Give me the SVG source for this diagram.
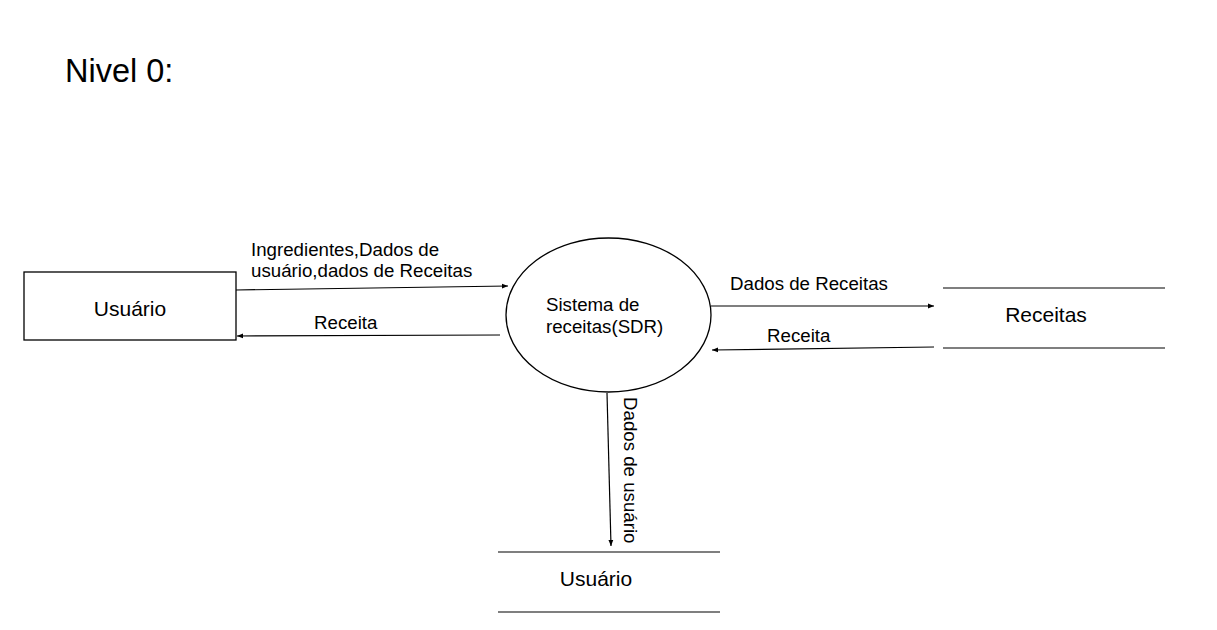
<svg xmlns="http://www.w3.org/2000/svg" width="1217" height="630" viewBox="0 0 1217 630">
<style>
text{font-family:"Liberation Sans",Arial,sans-serif;fill:#000}
.lbl{font-size:18.7px}
.node{font-size:21px}
.shape{fill:#fff;stroke:#000;stroke-width:1.3}
.line{stroke:#000;stroke-width:1.2;fill:none}
.conn{stroke:#000;stroke-width:1.2;fill:none;marker-end:url(#ah)}
</style>
<defs>
<marker id="ah" viewBox="0 0 10 10" refX="10" refY="5" markerWidth="6" markerHeight="6" orient="auto" markerUnits="userSpaceOnUse">
<path d="M0,1 L10,5 L0,9 z" fill="#000"/>
</marker>
</defs>
<rect width="1217" height="630" fill="#fff"/>
<text x="65" y="82" style="font-size:32.5px">Nivel 0:</text>
<g id="usuario">
<rect class="shape" x="24" y="272" width="212" height="68"/>
<text class="node" x="130" y="316" text-anchor="middle">Usuário</text>
</g>
<g id="sdr">
<ellipse class="shape" cx="608.5" cy="315" rx="102.5" ry="77"/>
<text class="lbl" x="546" y="311">Sistema de</text>
<text class="lbl" x="546" y="333">receitas(SDR)</text>
</g>
<g id="store-receitas">
<line class="line" x1="943" y1="288" x2="1165" y2="288"/>
<line class="line" x1="943" y1="348" x2="1165" y2="348"/>
<text class="node" x="1046" y="322" text-anchor="middle">Receitas</text>
</g>
<g id="store-usuario">
<line class="line" x1="498" y1="552" x2="720" y2="552"/>
<line class="line" x1="498" y1="612" x2="720" y2="612"/>
<text class="node" x="596" y="586" text-anchor="middle">Usuário</text>
</g>
<g id="connectors">
<line class="conn" x1="236" y1="290" x2="508" y2="286"/>
<line class="conn" x1="500" y1="335" x2="237" y2="336"/>
<line class="conn" x1="711" y1="306" x2="934" y2="306"/>
<line class="conn" x1="934" y1="347" x2="712" y2="350"/>
<line class="conn" x1="607" y1="393" x2="611" y2="546"/>
<text class="lbl" x="251" y="256">Ingredientes,Dados de</text>
<text class="lbl" x="251" y="277">usuário,dados de Receitas</text>
<text class="lbl" x="314" y="329">Receita</text>
<text class="lbl" x="730" y="290">Dados de Receitas</text>
<text class="lbl" x="767" y="342">Receita</text>
<text class="lbl" transform="translate(624 397) rotate(90)">Dados de usuário</text>
</g>
</svg>
